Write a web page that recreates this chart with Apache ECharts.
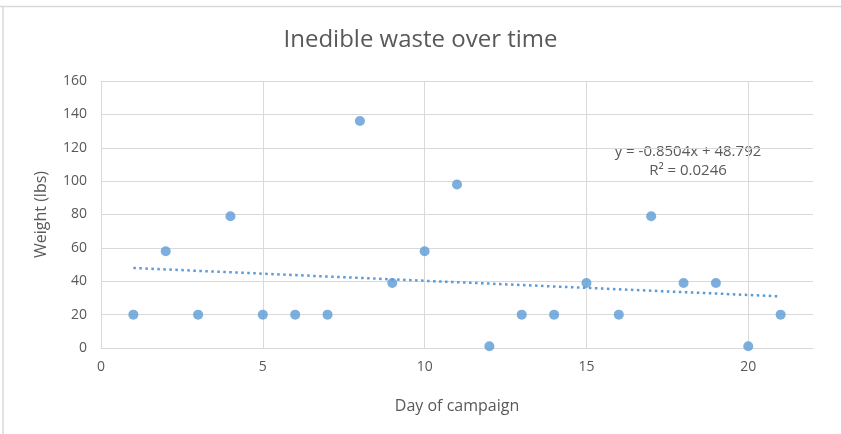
<!DOCTYPE html>
<html><head><meta charset="utf-8">
<script src="https://cdn.jsdelivr.net/npm/echarts@6/dist/echarts.min.js"></script>
<style>html,body{margin:0;padding:0;background:#fff}#c{width:841px;height:434px}</style>
</head><body><div id="c"></div>
<script>
const days = [1,2,3,4,5,6,7,8,9,10,11,12,13,14,15,16,17,18,19,20,21];
const weights = [20,58,20,79,20,20,20,136,39,58,98,1,20,20,39,20,79,39,39,1,20];
const trendX = [1, 21];
const trendY = [47.94, 30.93];
const trendText = ['y = -0.8504x + 48.792', 'R² = 0.0246'];
const xTicks = [0,5,10,15,20];

const chart = echarts.init(document.getElementById('c'), null, {renderer:'canvas'});
const font = '"Open Sans", "Liberation Sans", sans-serif';
const grey = '#595959';
const splitColors = xTicks.map(()=> '#d9d9d9').concat(['rgba(0,0,0,0)']);
chart.setOption({
  animation:false,
  backgroundColor:'#fff',
  title:{text:'Inedible waste over time', left:'center', top:23,
    textStyle:{fontFamily:font, fontSize:24, fontWeight:'normal', color:grey}},
  grid:{left:101, right:841-813, top:81, bottom:434-348},
  xAxis:{type:'value', min:0, max:22, interval:5,
    name:'Day of campaign', nameLocation:'middle', nameGap:50,
    nameTextStyle:{fontFamily:font, fontSize:16, color:grey},
    axisLine:{show:true, lineStyle:{color:'#d9d9d9'}},
    axisTick:{show:false},
    axisLabel:{fontFamily:font, fontSize:14, color:grey, margin:12,
      formatter:v=> xTicks.includes(v)? String(v):'' , showMaxLabel:true},
    splitLine:{show:true, lineStyle:{color:splitColors, width:1}}},
  yAxis:{type:'value', min:0, max:160, interval:20,
    name:'Weight (lbs)', nameLocation:'middle', nameGap:52,
    nameTextStyle:{fontFamily:font, fontSize:16, color:grey},
    axisLine:{show:false}, axisTick:{show:false},
    axisLabel:{fontFamily:font, fontSize:14, color:grey, margin:14},
    splitLine:{show:true, lineStyle:{color:'#d9d9d9', width:1}}},
  series:[
    {type:'line', data:trendX.map((x,i)=>[x,trendY[i]]), symbol:'none',
     lineStyle:{color:'#5b9bd5', width:2.5, type:[2.5,3.5]}, z:2},
    {type:'scatter', data:days.map((d,i)=>[d,weights[i]]), symbolSize:10,
     itemStyle:{color:'#5b9bd5'}, z:3}
  ],
  graphic:[
    {type:'line', shape:{x1:0,y1:6.5,x2:841,y2:6.5}, style:{stroke:'#d9d9d9', lineWidth:1.5}},
    {type:'line', shape:{x1:3,y1:6,x2:3,y2:434}, style:{stroke:'#d9d9d9', lineWidth:1.5}},
    {type:'text', x:688, y:144, style:{text:trendText[0], fill:grey, font:'15px '+font, textAlign:'center'}},
    {type:'text', x:688, y:163, style:{text:trendText[1], fill:grey, font:'15px '+font, textAlign:'center'}}
  ]
});
</script></body></html>
